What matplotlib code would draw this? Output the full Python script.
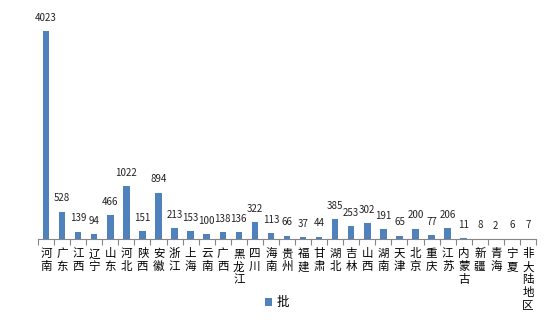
import matplotlib
matplotlib.use('Agg')
import matplotlib.pyplot as plt
import numpy as np

plt.rcParams['font.family'] = ['Noto Sans CJK SC', 'DejaVu Sans']

provinces = ['河南', '广东', '江西', '辽宁', '山东', '河北', '陕西', '安徽', '浙江', '上海',
             '云南', '广西', '黑龙江', '四川', '海南', '贵州', '福建', '甘肃', '湖北', '吉林',
             '山西', '湖南', '天津', '北京', '重庆', '江苏', '内蒙古', '新疆', '青海', '宁夏',
             '非大陆地区']
counts = [4023, 528, 139, 94, 466, 1022, 151, 894, 213, 153,
          100, 138, 136, 322, 113, 66, 37, 44, 385, 253,
          302, 191, 65, 200, 77, 206, 11, 8, 2, 6,
          7]
series_name = '批'

fig = plt.figure(figsize=(5.54, 3.24), dpi=100)
ax = fig.add_axes([0.0686, 0.2623, 0.8989, 0.718])

x = np.arange(len(provinces))
bars = ax.bar(x, counts, width=0.4, color='#4F81BD', label=series_name)

for xi, v in zip(x, counts):
    ax.annotate(str(v), (xi, v), xytext=(0, 6), textcoords='offset points',
                ha='center', va='bottom', fontsize=7, color='#222222')

ax.set_xlim(-0.5, len(provinces) - 0.5)
ax.set_ylim(0, 4500)
ax.set_yticks([])

ax.set_xticks(x)
ax.set_xticklabels(['\n'.join(p) for p in provinces], fontsize=8.3, linespacing=1.0,
                   va='top')
ax.set_xticks(np.arange(-0.5, len(provinces)), minor=True)
ax.tick_params(axis='x', which='major', length=0, pad=6)
ax.tick_params(axis='x', which='minor', length=4, color='#868686', width=0.8)

for s in ['top', 'right', 'left']:
    ax.spines[s].set_visible(False)
ax.spines['bottom'].set_color('#868686')
ax.spines['bottom'].set_linewidth(0.8)

fig.legend(handles=[bars], labels=[series_name], loc='center',
           bbox_to_anchor=(0.5, 0.065), frameon=False, fontsize=9,
           handlelength=0.6, handleheight=0.6, handletextpad=0.4)

fig.savefig('out.png', dpi=100)
